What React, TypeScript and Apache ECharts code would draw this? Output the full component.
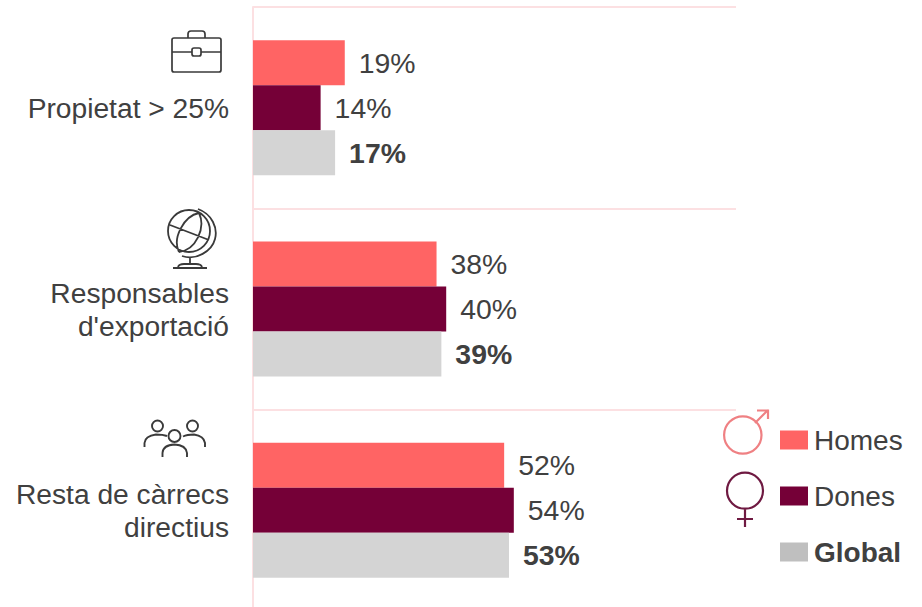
import React, { useEffect, useRef } from "react";
import * as echarts from "echarts";

const categories = ["Propietat > 25%", "Responsables\nd'exportació", "Resta de càrrecs\ndirectius"];
const homes = [19, 38, 52];
const dones = [14, 40, 54];
const globalShare = [17, 39, 53];

const FONT = "Liberation Sans";
const TEXT = "#404040";
const ICON = "#3a3a3a";
const CORAL = "#ff6464";
const WINE = "#750037";
const GREY = "#d4d4d4";
const RULE = "#fce0e2";

// Pictograms beside the categories and the legend, as plain SVG paths.
const icons: Record<string, string> = {
  briefcase:
    "M174 38H219Q221 38 221 40V70Q221 72 219 72H174Q172 72 172 70V40Q172 38 174 38Z" +
    "M188 38V34Q188 31 191 31H202Q205 31 205 34V38" +
    "M172 52H192M201 52H221" +
    "M194 48H199Q201 48 201 50V54Q201 56 199 56H194Q192 56 192 54V50Q192 48 194 48Z",
  globe:
    "M210 231A21 21 0 1 1 168 231A21 21 0 1 1 210 231Z" +
    "M170 225L209 240" +
    "M199 213C184 216 172 238 179 252" +
    "M199 213C206 228 196 250 179 252" +
    "M198 209C212 214 218 228 215 239C212 251 196 261 182 256" +
    "M190 257V265M178 267Q179 264 184 264H196Q201 264 202 267M173 268H207",
  people:
    "M163 426A5.5 5.5 0 1 1 152 426A5.5 5.5 0 1 1 163 426Z" +
    "M198 426A5.5 5.5 0 1 1 187 426A5.5 5.5 0 1 1 198 426Z" +
    "M180.5 436A6 6 0 1 1 168.5 436A6 6 0 1 1 180.5 436Z" +
    "M144.5 447V443Q145 436 156 434.5Q163 434.5 167 436" +
    "M205 447V443Q204 436 194 434.5Q187 434.5 183 436.5" +
    "M162.5 457V453Q163 445 174.5 444.5Q186 445 187 453V457",
  male:
    "M761.5 435A18.7 18.7 0 1 1 724.1 435A18.7 18.7 0 1 1 761.5 435Z" +
    "M755 423L768 410M757 410.5H768V419",
  female:
    "M763 490.7A18 18 0 1 1 727 490.7A18 18 0 1 1 763 490.7Z" +
    "M745 508.7V527M737 519H753",
};

Object.keys(icons).forEach((name) => {
  echarts.graphic.registerShape(name, echarts.graphic.extendPath(icons[name], {}));
});

const iconStroke: Record<string, [string, number]> = {
  briefcase: [ICON, 1.7],
  globe: [ICON, 1.8],
  people: [ICON, 1.9],
  male: ["#ef8083", 2.2],
  female: ["#6f1a42", 2.2],
};

const barSeries = (name: string, values: number[], color: string, bold: boolean) => ({
  name,
  type: "bar" as const,
  data: values,
  barWidth: 45,
  barGap: 0,
  itemStyle: { color },
  label: {
    show: true,
    position: "right" as const,
    distance: 14,
    formatter: "{c}%",
    fontFamily: FONT,
    fontSize: 28.4,
    fontWeight: bold ? ("bold" as const) : ("normal" as const),
    color: TEXT,
  },
});

export default function App() {
  const ref = useRef<HTMLDivElement>(null);

  useEffect(() => {
    const chart = echarts.init(ref.current!, undefined, { renderer: "svg" });
    chart.setOption({
      animation: false,
      backgroundColor: "#ffffff",
      grid: { left: 253, top: 7, width: 483, height: 604 },
      xAxis: { type: "value", min: 0, max: 100, show: false },
      yAxis: {
        type: "category",
        inverse: true,
        data: categories,
        axisLine: { show: true, lineStyle: { color: RULE, width: 2 } },
        axisTick: { show: false },
        splitLine: { show: true, lineStyle: { color: RULE, width: 2 } },
        axisLabel: {
          margin: 24,
          align: "right",
          fontFamily: FONT,
          fontSize: 28.2,
          lineHeight: 33,
          padding: [0, 0, 3, 0],
          color: TEXT,
        },
      },
      legend: {
        orient: "vertical",
        left: 780,
        top: 426,
        padding: 0,
        itemWidth: 28,
        itemHeight: 19,
        itemGap: 28,
        selectedMode: false,
        icon: "rect",
        textStyle: { fontFamily: FONT, fontSize: 28, color: TEXT, padding: [0, 0, 0, 1] },
        data: [
          { name: "Homes", itemStyle: { color: CORAL } },
          { name: "Dones", itemStyle: { color: WINE } },
          { name: "Global", itemStyle: { color: "#bfbfbf" }, textStyle: { fontWeight: "bold" } },
        ],
      },
      series: [
        barSeries("Homes", homes, CORAL, false),
        barSeries("Dones", dones, WINE, false),
        barSeries("Global", globalShare, GREY, true),
      ],
      graphic: Object.keys(icons).map((name) => ({
        type: name,
        x: 0,
        y: 0,
        silent: true,
        style: {
          fill: "none",
          stroke: iconStroke[name][0],
          lineWidth: iconStroke[name][1],
        },
      })),
    });
    return () => chart.dispose();
  }, []);

  // The plot runs a few pixels past the window's lower edge, so the canvas is taller than its frame.
  return (
    <div style={{ position: "fixed", left: 0, top: 0, width: 922, height: 607, overflow: "hidden" }}>
      <div ref={ref} style={{ width: 922, height: 640 }} />
    </div>
  );
}
